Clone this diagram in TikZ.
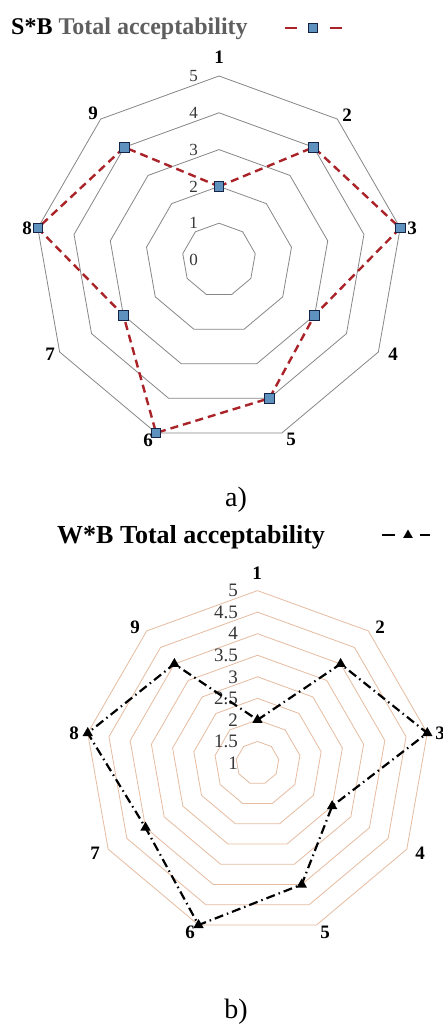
\documentclass[tikz,border=0pt]{standalone}
\usepackage{fontspec}
\setmainfont{Liberation Serif}
\usetikzlibrary{shapes.geometric}
\definecolor{serieA}{RGB}{170,35,40}
\definecolor{mkfill}{RGB}{95,145,190}
\definecolor{mkline}{RGB}{20,35,70}
\definecolor{gridgray}{RGB}{135,135,135}
\definecolor{gridor}{RGB}{230,188,160}
\definecolor{ringtxt}{RGB}{55,55,55}
\definecolor{ttlgray}{RGB}{95,95,95}
\begin{document}
\begin{tikzpicture}[x=1pt,y=-1pt,
  gridA/.style={draw=gridgray, line width=0.8pt},
  gridB/.style={draw=gridor, line width=0.8pt},
  axlab/.style={font=\fontsize{19}{19}\selectfont\bfseries, inner sep=0pt},
  ringA/.style={font=\fontsize{17}{17}\selectfont, text=ringtxt, inner sep=0pt, anchor=east},
  ringB/.style={font=\fontsize{19}{19}\selectfont, text=ringtxt, inner sep=0pt, anchor=east},
  sqm/.style={rectangle, minimum size=9.5pt, inner sep=0pt, fill=mkfill, draw=mkline, line width=0.8pt},
  trim/.style={regular polygon, regular polygon sides=3, minimum size=12pt, inner sep=0pt, fill=black},
  lineA/.style={draw=serieA, line width=2.4pt, dash pattern=on 8pt off 5pt},
  lineB/.style={draw=black, line width=2.2pt, dash pattern=on 9pt off 4pt on 1.5pt off 4pt},
  subcap/.style={font=\fontsize{28}{28}\selectfont, inner sep=0pt}
]
\useasboundingbox (0,0) rectangle (443,1024);
\fill[white] (0,0) rectangle (443,1024);

% ---------------- chart a) ----------------
\node[anchor=base west, inner sep=0pt, font=\fontsize{24}{24}\selectfont\bfseries] (titleA) at (11,35) {S*B \textcolor{ttlgray}{Total acceptability}};
\draw[serieA, line width=2.6pt] (285,28) -- (297,28);
\draw[serieA, line width=2.6pt] (330,28) -- (342,28);
\node[sqm] (legA) at (313,28) {};

\foreach \v in {1,...,5}
  \draw[gridA] (219,{260-36.8*\v}) \foreach \k in {1,...,8}{ -- ({219+36.8*\v*sin(40*\k)},{260-36.8*\v*cos(40*\k)}) } -- cycle;

\foreach \v in {0,...,5}
  \node[ringA] (rA\v) at (198,{260-36.8*\v}) {\v};

\foreach \v [count=\k] in {2,4,5,3,4,5,3,5,4}
  \coordinate (s\k) at ({219+36.8*\v*sin(40*(\k-1))},{260-36.8*\v*cos(40*(\k-1))});
\draw[lineA] (s1) -- (s2) -- (s3) -- (s4) -- (s5) -- (s6) -- (s7) -- (s8) -- (s9) -- cycle;
\foreach \k in {1,...,9}
  \node[sqm] (ms\k) at (s\k) {};

\node[axlab] (aA1) at (219,57) {1};
\node[axlab] (aA2) at (347,115) {2};
\node[axlab] (aA3) at (412,228) {3};
\node[axlab] (aA4) at (393,354) {4};
\node[axlab] (aA5) at (291,439) {5};
\node[axlab] (aA6) at (148,440) {6};
\node[axlab] (aA7) at (50,354) {7};
\node[axlab] (aA8) at (27,228) {8};
\node[axlab] (aA9) at (93,113) {9};

\node[subcap] (capA) at (236,500) {a)};

% ---------------- chart b) ----------------
\node[anchor=base west, inner sep=0pt, font=\fontsize{26}{26}\selectfont\bfseries] (titleB) at (57,543) {W*B Total acceptability};
\draw[black, line width=2.6pt] (382,535) -- (395,535);
\draw[black, line width=2.6pt] (420,535) -- (430,535);
\node[trim, minimum size=11pt] (legB) at (408,535) {};

\foreach \v in {1.5,2,2.5,3,3.5,4,4.5,5}
  \draw[gridB] (257.5,{763-43.1*(\v-1)}) \foreach \k in {1,...,8}{ -- ({257.5+43.1*(\v-1)*sin(40*\k)},{763-43.1*(\v-1)*cos(40*\k)}) } -- cycle;

\foreach \v [count=\i] in {1,1.5,2,2.5,3,3.5,4,4.5,5}
  \node[ringB] (rB\i) at (238,{763-43.1*(\v-1)}) {\v};

\foreach \v [count=\k] in {2,4,5,3,4,5,4,5,4}
  \coordinate (w\k) at ({257.5+43.1*(\v-1)*sin(40*(\k-1))},{763-43.1*(\v-1)*cos(40*(\k-1))});
\draw[lineB] (w1) -- (w2) -- (w3) -- (w4) -- (w5) -- (w6) -- (w7) -- (w8) -- (w9) -- cycle;
\foreach \k in {1,...,9}
  \node[trim] (mw\k) at (w\k) {};

\node[axlab] (aB1) at (257,573) {1};
\node[axlab] (aB2) at (380,627) {2};
\node[axlab] (aB3) at (440,733) {3};
\node[axlab] (aB4) at (420,853) {4};
\node[axlab] (aB5) at (325,932) {5};
\node[axlab] (aB6) at (190,932) {6};
\node[axlab] (aB7) at (95,853) {7};
\node[axlab] (aB8) at (74,733) {8};
\node[axlab] (aB9) at (135,627) {9};

\node[subcap] (capB) at (236,1012) {b)};
\end{tikzpicture}
\end{document}
